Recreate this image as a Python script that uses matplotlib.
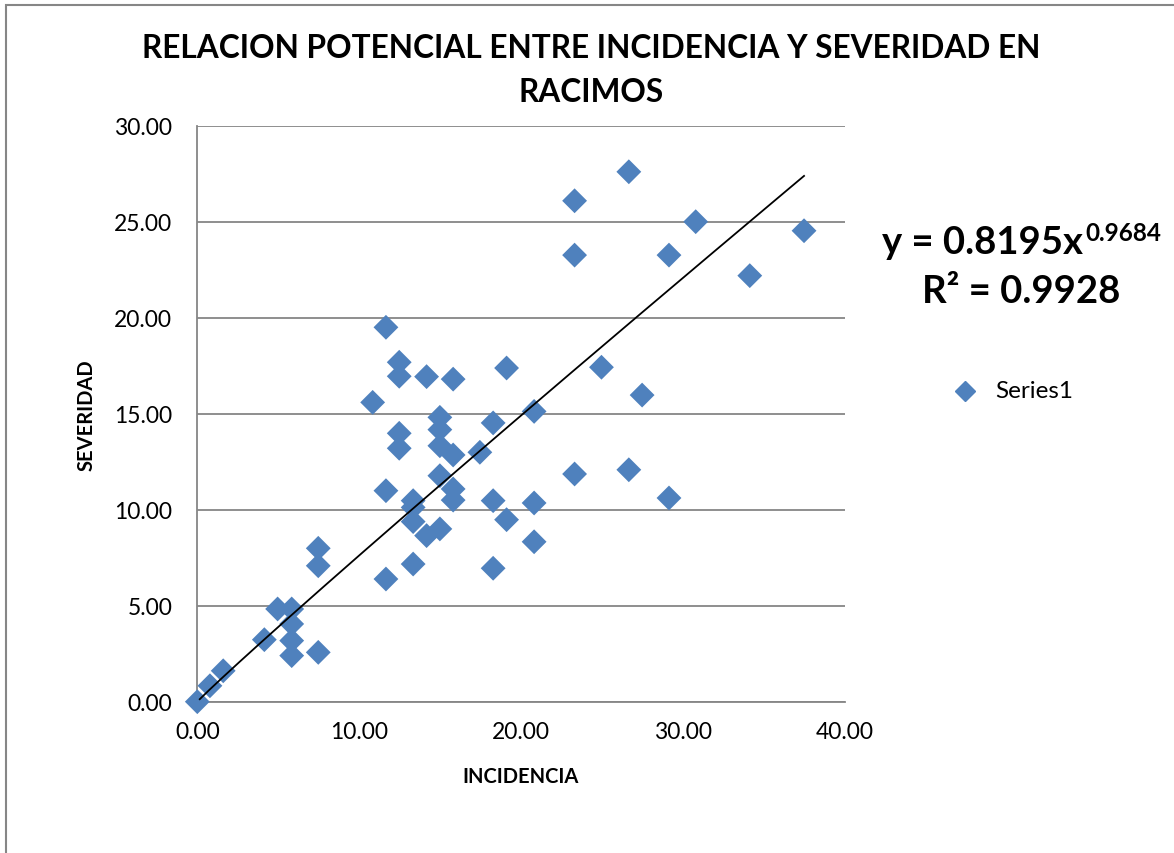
import matplotlib
matplotlib.use("Agg")
import matplotlib.pyplot as plt
import numpy as np
from matplotlib.patches import Rectangle
from matplotlib.lines import Line2D

plt.rcParams['font.family'] = ['Lato', 'DejaVu Sans']

incidencia = [0.00, 0.78, 1.60, 4.14, 4.96, 5.83, 5.83, 5.83, 5.83, 7.47,
              7.47, 7.47, 11.65, 11.65, 10.83, 11.65, 12.47, 12.47, 14.16, 15.80,
              19.10, 20.80, 12.47, 12.47, 14.98, 14.98, 14.98, 15.80, 17.45, 18.27,
              14.98, 15.80, 15.80, 13.33, 13.33, 13.33, 14.16, 14.98, 13.33, 18.27,
              19.10, 20.80, 20.80, 18.27, 23.30, 26.65, 23.30, 23.30, 30.78, 29.13,
              37.47, 34.12, 24.96, 27.47, 26.65, 29.13]
severidad = [0.00, 0.83, 1.61, 3.23, 4.83, 4.83, 4.05, 3.18, 2.40, 2.57,
             7.99, 7.08, 6.39, 10.99, 15.59, 19.50, 17.68, 16.95, 16.93, 16.80,
             17.38, 15.12, 13.98, 13.20, 14.81, 14.17, 13.33, 12.85, 12.99, 14.52,
             11.77, 11.08, 10.50, 10.47, 10.12, 9.38, 8.65, 9.00, 7.17, 10.47,
             9.48, 10.35, 8.33, 6.95, 11.86, 27.60, 26.09, 23.26, 25.00, 23.26,
             24.53, 22.19, 17.42, 15.97, 12.08, 10.61]

coef_a = 0.8195
coef_b = 0.9684
r2 = 0.9928

x_ticks = [0, 10, 20, 30, 40]
y_ticks = [0, 5, 10, 15, 20, 25, 30]

W, H = 1174, 854
fig = plt.figure(figsize=(W / 100, H / 100), dpi=100)

# outer chart frame (right and bottom edges fall outside the image)
fig.patches.append(Rectangle((5.5 / W, -0.05), 1.2, 1 - 6 / H + 0.05,
                             transform=fig.transFigure, fill=False,
                             edgecolor='#868686', linewidth=1.5))

ax = fig.add_axes([197.3 / W, 1 - 702.7 / H, (845 - 197.3) / W, (702.7 - 126.7) / H])
ax.set_xlim(0, 40)
ax.set_ylim(0, 30)
ax.set_xticks(x_ticks)
ax.set_yticks(y_ticks)
ax.set_xticklabels([f"{v:.2f}" for v in x_ticks])
ax.set_yticklabels([f"{v:.2f}" for v in y_ticks])
ax.tick_params(axis='both', length=0, labelsize=16.5, colors='black')
ax.tick_params(axis='y', pad=18)
ax.tick_params(axis='x', pad=14)
ax.grid(axis='y', color='#868686', linewidth=1.3)
ax.set_axisbelow(True)
for s in ['top', 'right']:
    ax.spines[s].set_visible(False)
for s in ['left', 'bottom']:
    ax.spines[s].set_color('#868686')
    ax.spines[s].set_linewidth(1.3)

ax.scatter(incidencia, severidad, marker='D', s=160, color='#4F81BD',
           edgecolors='none', zorder=3, clip_on=False)

xt = np.linspace(0.15, max(incidencia), 200)
ax.plot(xt, coef_a * xt ** coef_b, color='black', linewidth=1.3, zorder=4)

fig.text(521 / W, 1 - 777 / H, 'INCIDENCIA', ha='center', va='center',
         fontsize=14.5, fontweight='bold')
fig.text(87 / W, 1 - 415 / H, 'SEVERIDAD', ha='center', va='center',
         fontsize=14.5, fontweight='bold', rotation=90)

fig.text(591 / W, 1 - 49 / H, 'RELACION POTENCIAL ENTRE INCIDENCIA Y SEVERIDAD EN',
         ha='center', va='center', fontsize=22.8, fontweight='bold')
fig.text(591 / W, 1 - 93 / H, 'RACIMOS', ha='center', va='center',
         fontsize=22.8, fontweight='bold')

# trendline equation: base text plus superscript exponent
base = fig.text(882 / W, 1 - 243 / H, f'y = {coef_a:.4f}x', ha='left', va='center',
                fontsize=27.5, fontweight='bold')
fig.add_artist(matplotlib.text.Annotation(
    f'{coef_b:.4f}', xy=(1.0, 0.78), xycoords=base, xytext=(1.5, 0),
    textcoords='offset points', ha='left', va='center',
    fontsize=17.5, fontweight='bold'))
fig.text(1021 / W, 1 - 292 / H, 'R² = %.4f' % r2, ha='center', va='center',
         fontsize=27.5, fontweight='bold')

# legend
fig.lines.append(Line2D([965 / W], [1 - 392 / H], marker='D', markersize=10,
                        color='#4F81BD', linestyle='none', transform=fig.transFigure))
fig.text(995 / W, 1 - 392 / H, 'Series1', ha='left', va='center', fontsize=17.5)

fig.savefig('out.png', dpi=100)
